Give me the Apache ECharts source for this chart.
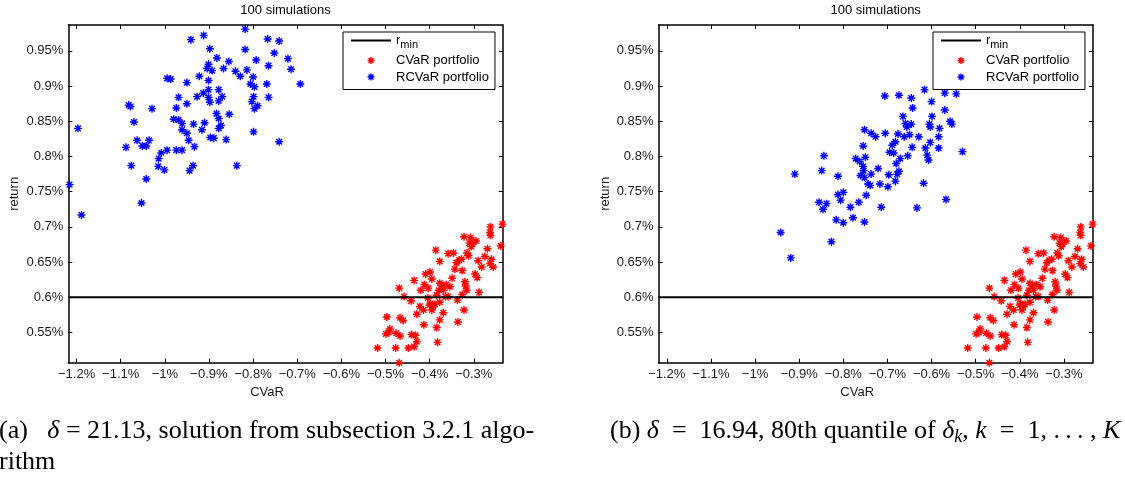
<!DOCTYPE html>
<html><head><meta charset="utf-8">
<script src="https://cdn.jsdelivr.net/npm/echarts@6/dist/echarts.min.js"></script>
<style>html,body{margin:0;padding:0;background:#fff}#c{width:1125px;height:477px}</style>
</head><body><div id="c"></div>
<script>
// ---------- data ----------
const xTicks = [-1.2, -1.1, -1.0, -0.9, -0.8, -0.7, -0.6, -0.5, -0.4, -0.3];
const yTicks = [0.55, 0.6, 0.65, 0.7, 0.75, 0.8, 0.85, 0.9, 0.95];
const xLimits = [-1.2188, -0.2344];
const yLimits = [0.5071, 0.9868];
const rMin = 0.6;
const titleText = '100 simulations';
const xName = 'CVaR';
const yName = 'return';
const seriesNames = ['rmin', 'CVaR portfolio', 'RCVaR portfolio'];

const cvarPoints = [
[-0.235,0.704],[-0.262,0.700],[-0.263,0.692],[-0.262,0.688],[-0.239,0.673],
[-0.322,0.686],[-0.307,0.685],[-0.295,0.680],[-0.303,0.676],[-0.310,0.677],
[-0.269,0.669],[-0.275,0.658],[-0.260,0.654],[-0.263,0.648],[-0.256,0.643],
[-0.282,0.643],[-0.290,0.652],[-0.297,0.633],[-0.292,0.628],[-0.288,0.607],
[-0.315,0.663],[-0.312,0.659],[-0.328,0.654],[-0.339,0.649],[-0.346,0.663],
[-0.358,0.662],[-0.377,0.651],[-0.386,0.667],[-0.343,0.640],[-0.326,0.638],
[-0.333,0.653],[-0.320,0.622],[-0.318,0.616],[-0.316,0.610],[-0.326,0.604],
[-0.337,0.596],[-0.322,0.582],[-0.336,0.565],[-0.354,0.615],[-0.364,0.601],
[-0.358,0.601],[-0.371,0.616],[-0.377,0.620],[-0.369,0.610],[-0.379,0.610],
[-0.399,0.636],[-0.409,0.633],[-0.395,0.626],[-0.412,0.618],[-0.420,0.610],
[-0.403,0.613],[-0.435,0.624],[-0.404,0.599],[-0.422,0.587],[-0.414,0.582],
[-0.429,0.576],[-0.398,0.591],[-0.392,0.587],[-0.395,0.582],[-0.377,0.593],
[-0.369,0.578],[-0.377,0.568],[-0.384,0.557],[-0.382,0.536],[-0.413,0.561],
[-0.442,0.595],[-0.458,0.601],[-0.469,0.613],[-0.467,0.571],[-0.460,0.567],
[-0.497,0.572],[-0.490,0.555],[-0.499,0.548],[-0.493,0.550],[-0.476,0.549],
[-0.467,0.545],[-0.441,0.547],[-0.432,0.546],[-0.429,0.537],[-0.435,0.530],
[-0.448,0.528],[-0.477,0.528],[-0.518,0.528],[-0.469,0.507],[-0.306,0.672],
[-0.362,0.618],[-0.400,0.589],[-0.388,0.590],[-0.384,0.603],[-0.349,0.627]
];

const rcvarPointsA = [
[-0.818,0.981],[-0.912,0.972],[-0.941,0.966],[-0.898,0.953],[-0.818,0.952],
[-0.882,0.940],[-0.855,0.935],[-0.901,0.931],[-0.904,0.925],[-0.893,0.922],
[-0.867,0.925],[-0.840,0.921],[-0.814,0.923],[-0.829,0.914],[-0.800,0.913],
[-0.793,0.937],[-0.922,0.914],[-0.901,0.908],[-0.995,0.911],[-0.987,0.910],
[-0.950,0.905],[-0.806,0.903],[-0.797,0.899],[-0.901,0.895],[-0.878,0.895],
[-0.913,0.890],[-0.927,0.885],[-0.969,0.884],[-0.901,0.884],[-0.870,0.885],
[-0.878,0.879],[-0.898,0.877],[-0.799,0.885],[-0.803,0.878],[-0.790,0.872],
[-0.797,0.868],[-0.950,0.875],[-0.974,0.869],[-1.082,0.873],[-1.078,0.871],
[-1.029,0.868],[-0.883,0.861],[-0.854,0.860],[-0.878,0.854],[-1.070,0.849],
[-0.980,0.853],[-0.969,0.852],[-0.961,0.847],[-0.935,0.846],[-0.910,0.848],
[-0.873,0.844],[-0.878,0.840],[-0.916,0.838],[-0.961,0.838],[-0.950,0.833],
[-0.897,0.827],[-0.889,0.826],[-0.861,0.824],[-0.799,0.835],[-1.063,0.823],
[-1.036,0.823],[-1.051,0.815],[-1.042,0.815],[-1.088,0.813],[-0.946,0.823],
[-0.933,0.814],[-0.995,0.809],[-0.974,0.809],[-0.961,0.809],[-1.008,0.805],
[-1.014,0.797],[-1.076,0.787],[-1.015,0.786],[-1.001,0.781],[-0.936,0.787],
[-0.944,0.780],[-0.837,0.787],[-1.042,0.768],[-1.197,0.840],[-1.216,0.760],
[-1.053,0.734],[-1.189,0.717],[-0.710,0.987],[-0.767,0.967],[-0.741,0.964],
[-0.752,0.947],[-0.721,0.939],[-0.765,0.929],[-0.714,0.924],[-0.769,0.903],
[-0.693,0.903],[-0.765,0.884],[-0.741,0.821]
];

const rcvarPointsB = [
[-0.910,0.775],[-0.844,0.801],[-0.849,0.780],[-0.812,0.772],[-0.752,0.838],
[-0.755,0.815],[-0.750,0.799],[-0.772,0.797],[-0.763,0.793],[-0.755,0.786],
[-0.754,0.780],[-0.761,0.773],[-0.752,0.770],[-0.744,0.761],
[-0.942,0.692],[-0.919,0.656],[-0.827,0.679],[-0.855,0.735],[-0.838,0.733],
[-0.846,0.725],[-0.812,0.746],[-0.800,0.749],[-0.806,0.738],[-0.784,0.728],
[-0.765,0.735],[-0.816,0.710],[-0.800,0.706],[-0.778,0.713],[-0.752,0.707],
[-0.748,0.745],
[-0.616,0.895],[-0.706,0.886],[-0.674,0.887],[-0.646,0.883],[-0.570,0.890],
[-0.544,0.889],[-0.600,0.878],[-0.643,0.869],[-0.570,0.866],[-0.665,0.857],
[-0.599,0.857],[-0.659,0.847],[-0.646,0.846],[-0.656,0.842],[-0.605,0.846],
[-0.603,0.842],[-0.558,0.850],[-0.554,0.846],[-0.582,0.840],[-0.737,0.833],
[-0.727,0.828],[-0.705,0.833],[-0.676,0.832],[-0.662,0.828],[-0.650,0.831],
[-0.629,0.828],[-0.584,0.828],[-0.682,0.821],[-0.689,0.816],[-0.603,0.820],
[-0.644,0.813],[-0.584,0.812],[-0.695,0.806],[-0.686,0.805],[-0.614,0.812],
[-0.610,0.802],[-0.607,0.795],[-0.530,0.807],[-0.654,0.801],[-0.671,0.797],
[-0.721,0.783],[-0.737,0.775],[-0.680,0.790],[-0.674,0.779],[-0.678,0.775],
[-0.697,0.774],
[-0.739,0.759],[-0.717,0.761],[-0.699,0.757],[-0.682,0.765],[-0.618,0.762],
[-0.714,0.728],[-0.633,0.727],[-0.567,0.739]
];

const captionA1 = '(a)   {i|δ} = 21.13, solution from subsection 3.2.1 algo-';
const captionA2 = 'rithm';
const captionB = '(b) {i|δ}\u2002=\u200216.94, 80th quantile of {i|δ}{sub|k}, {i|k}\u2002=\u20021, .\u2009.\u2009. , {i|K}';

// ---------- chart ----------
const SANS = '"Liberation Sans", Arial, Helvetica, sans-serif';
const SERIF = '"Liberation Serif", "Times New Roman", serif';
const STAR = 'path://M0 5L10 5M5 0L5 10M1.46 1.46L8.54 8.54M1.46 8.54L8.54 1.46';
const LINE_ICON = 'path://M0 4L40 4L40 6L0 6Z';
const RED = '#ff0000', BLUE = '#0000ff';
const grids = [
  {left: 68.3, top: 25, width: 434.4, height: 337.7},
  {left: 658.5, top: 25, width: 434.4, height: 337.7}
];
const fmt = v => (v < 0 ? '\u2212' : '') + Math.abs(Math.round(v * 1000) / 1000) + '%';

function xAxisFor(gi, pos) {
  const bottom = pos === 'bottom';
  return {
    type: 'value', gridIndex: gi, position: pos, min: xLimits[0], max: xLimits[1],
    axisLine: {show: true, onZero: false, lineStyle: {color: '#000', width: 1.5}},
    axisTick: {show: true, inside: true, length: 4, customValues: xTicks, lineStyle: {color: '#000', width: 1}},
    axisLabel: {show: bottom, customValues: xTicks, formatter: fmt, margin: 5,
      fontFamily: SANS, fontSize: 13, color: '#1a1a1a'},
    splitLine: {show: false},
    name: bottom ? xName : '', nameLocation: 'middle', nameGap: 21,
    nameTextStyle: {fontFamily: SANS, fontSize: 13, color: '#1a1a1a', padding: [0, 37, 0, 0]}
  };
}
function yAxisFor(gi, pos) {
  const left = pos === 'left';
  return {
    type: 'value', gridIndex: gi, position: pos, min: yLimits[0], max: yLimits[1],
    axisLine: {show: true, onZero: false, lineStyle: {color: '#000', width: 1.5}},
    axisTick: {show: true, inside: true, length: 4, customValues: yTicks, lineStyle: {color: '#000', width: 1}},
    axisLabel: {show: left, customValues: yTicks, formatter: fmt, margin: 5,
      fontFamily: SANS, fontSize: 13, color: '#1a1a1a'},
    splitLine: {show: false},
    name: left ? yName : '', nameLocation: 'middle', nameGap: 47,
    nameTextStyle: {fontFamily: SANS, fontSize: 13, color: '#1a1a1a'}
  };
}
function starStyle(c) {
  return {color: c, borderColor: c, borderWidth: 1.4, opacity: 1};
}
function seriesFor(gi, rcvar) {
  const ax = {xAxisIndex: gi * 2, yAxisIndex: gi * 2};
  return [
    Object.assign({type: 'line', name: seriesNames[0], data: [[xLimits[0], rMin], [xLimits[1], rMin]],
      symbol: 'none', lineStyle: {color: '#000', width: 2}, itemStyle: {color: '#000'}, silent: true}, ax),
    Object.assign({type: 'scatter', name: seriesNames[1], data: cvarPoints, symbol: STAR, symbolSize: 8,
      itemStyle: starStyle(RED), silent: true}, ax),
    Object.assign({type: 'scatter', name: seriesNames[2], data: rcvar, symbol: STAR, symbolSize: 8,
      itemStyle: starStyle(BLUE), silent: true}, ax)
  ];
}
function legendFor(left) {
  return {
    orient: 'vertical', left: left, top: 32, align: 'left',
    itemWidth: 40, itemHeight: 7, itemGap: 3.5, padding: [2, 6, 6, 8],
    borderColor: '#000', borderWidth: 1, backgroundColor: '#fff',
    selectedMode: false,
    data: [
      {name: seriesNames[0], icon: LINE_ICON, itemStyle: {color: '#000', borderWidth: 0}},
      {name: seriesNames[1], icon: STAR, itemStyle: starStyle(RED)},
      {name: seriesNames[2], icon: STAR, itemStyle: starStyle(BLUE)}
    ],
    formatter: n => n === 'rmin' ? 'r{sub|min}' : n,
    textStyle: {fontFamily: SANS, fontSize: 13, color: '#000',
      rich: {sub: {fontFamily: SANS, fontSize: 11, color: '#000', padding: [9, 0, 0, 0]}}}
  };
}
const serifRich = {
  i: {fontFamily: SERIF, fontSize: 26, fontStyle: 'italic', fill: '#000'},
  sub: {fontFamily: SERIF, fontSize: 18, fontStyle: 'italic', fill: '#000', padding: [12, 0, 0, 0]}
};
function cap(text, x, y) {
  return {type: 'text', x: x, y: y, silent: true, style: {text: text, fontFamily: SERIF, fontSize: 26,
    fill: '#000', textAlign: 'left', textVerticalAlign: 'middle', rich: serifRich}};
}
function titleGraphic(cx) {
  return {type: 'text', x: cx, y: 10.5, silent: true, style: {text: titleText, fontFamily: SANS, fontSize: 13,
    fill: '#000', textAlign: 'center', textVerticalAlign: 'middle'}};
}

const chart = echarts.init(document.getElementById('c'), null, {renderer: 'canvas'});
chart.setOption({
  animation: false,
  backgroundColor: '#fff',
  grid: grids,
  xAxis: [xAxisFor(0, 'bottom'), xAxisFor(0, 'top'), xAxisFor(1, 'bottom'), xAxisFor(1, 'top')],
  yAxis: [yAxisFor(0, 'left'), yAxisFor(0, 'right'), yAxisFor(1, 'left'), yAxisFor(1, 'right')],
  legend: [legendFor(343), legendFor(933)],
  series: seriesFor(0, rcvarPointsA).concat(seriesFor(1, rcvarPointsB)),
  graphic: [
    titleGraphic(grids[0].left + grids[0].width / 2),
    titleGraphic(grids[1].left + grids[1].width / 2),
    cap(captionA1, -1, 431),
    cap(captionA2, -1, 462),
    cap(captionB, 610, 431)
  ]
});
</script></body></html>
